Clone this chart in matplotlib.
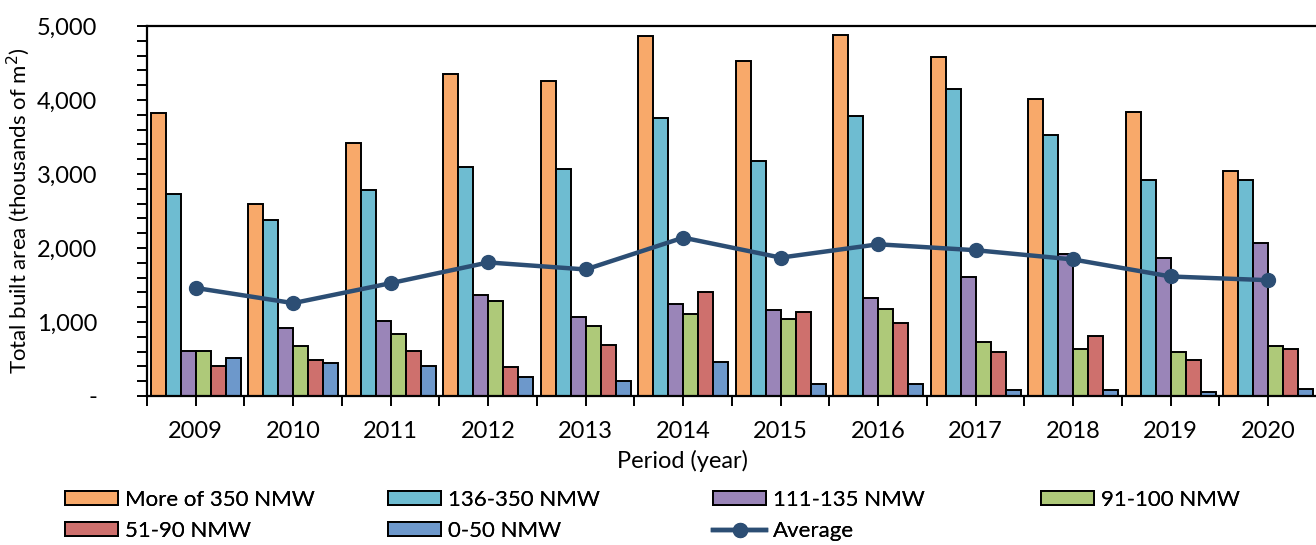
import matplotlib.pyplot as plt
import numpy as np
from matplotlib.ticker import FixedLocator, MultipleLocator, FuncFormatter

plt.rcParams["font.family"] = ["Lato", "DejaVu Sans"]

YEARS = ["2009", "2010", "2011", "2012", "2013", "2014",
         "2015", "2016", "2017", "2018", "2019", "2020"]

SERIES = [
    "More of 350 NMW",
    "136-350 NMW",
    "111-135 NMW",
    "91-100 NMW",
    "51-90 NMW",
    "0-50 NMW",
]

more_350 = [3820, 2590, 3420, 4350, 4250, 4865, 4525, 4885, 4575, 4015, 3840, 3045]
nmw_136_350 = [2735, 2385, 2790, 3090, 3065, 3755, 3170, 3785, 4145, 3525, 2925, 2925]
nmw_111_135 = [605, 925, 1010, 1360, 1065, 1240, 1160, 1325, 1610, 1915, 1870, 2065]
nmw_91_100 = [605, 680, 840, 1290, 940, 1110, 1040, 1180, 725, 635, 600, 670]
nmw_51_90 = [400, 490, 605, 390, 695, 1410, 1130, 990, 590, 815, 480, 635]
nmw_0_50 = [515, 450, 410, 255, 200, 465, 160, 165, 75, 75, 55, 100]
average = [1460, 1255, 1525, 1805, 1710, 2140, 1870, 2050, 1970, 1845, 1615, 1565]

COLORS = ["#F8A96A", "#6EBCD1", "#9A85B8", "#AEC979", "#CE706D", "#6D98CB"]
LINE_COLOR = "#2C4E74"


def main():
    values = [more_350, nmw_136_350, nmw_111_135, nmw_91_100, nmw_51_90, nmw_0_50]
    x = np.arange(len(YEARS))
    width = 0.154

    fig = plt.figure(figsize=(13.16, 5.45), dpi=100)
    ax = fig.add_axes([0.1117, 0.2734, 0.889, 0.6789])

    handles = []
    for i, (name, vals) in enumerate(zip(SERIES, values)):
        h = ax.bar(x + (i - 2.5) * width, vals, width, color=COLORS[i],
                   edgecolor="black", linewidth=1.4, label=name, zorder=2)
        handles.append(h)

    line, = ax.plot(x, average, color=LINE_COLOR, linewidth=3.2, marker="o",
                    markersize=10, label="Average", zorder=3)
    handles.append(line)

    ax.set_xlim(-0.5, len(YEARS) - 0.5)
    ax.set_ylim(0, 5000)

    ax.yaxis.set_major_locator(MultipleLocator(1000))
    ax.yaxis.set_minor_locator(MultipleLocator(200))
    ax.yaxis.set_major_formatter(FuncFormatter(lambda v, p: "-" if v == 0 else f"{int(v):,}"))

    ax.set_xticks(x)
    ax.set_xticklabels(YEARS)
    ax.xaxis.set_minor_locator(FixedLocator(np.arange(-0.5, len(YEARS), 1.0)))

    ax.tick_params(axis="y", which="both", direction="out", length=7, width=1.4,
                   labelsize=17, pad=29)
    ax.tick_params(axis="x", which="both", direction="out", length=7, width=1.4,
                   labelsize=17, pad=11)
    for s in ax.spines.values():
        s.set_linewidth(1.6)
    ax.spines["right"].set_visible(False)

    ax.set_ylabel("Total built area (thousands of m$^2$)", fontsize=16)
    ax.yaxis.set_label_coords(-0.098, 0.5)
    ax.set_xlabel("Period (year)", fontsize=17, va="top")
    ax.xaxis.set_label_coords(0.458, -0.147)

    # legend: four fixed-width columns like the original
    labels = SERIES + ["Average"]
    columns = [[0, 4], [1, 5], [2, 6], [3]]
    col_x = [65, 388, 713, 1041]
    for cx, idx in zip(col_x, columns):
        leg = fig.legend([handles[k] for k in idx], [labels[k] for k in idx],
                         loc="upper left", bbox_to_anchor=(cx / 1316, 1 - 490 / 545),
                         frameon=False, fontsize=16, handlelength=2.4,
                         handleheight=0.6, handletextpad=0.3, labelspacing=0.5,
                         borderpad=0.0, borderaxespad=0.0)
        fig.add_artist(leg)

    fig.savefig("out.png", dpi=100)


if __name__ == "__main__":
    main()
